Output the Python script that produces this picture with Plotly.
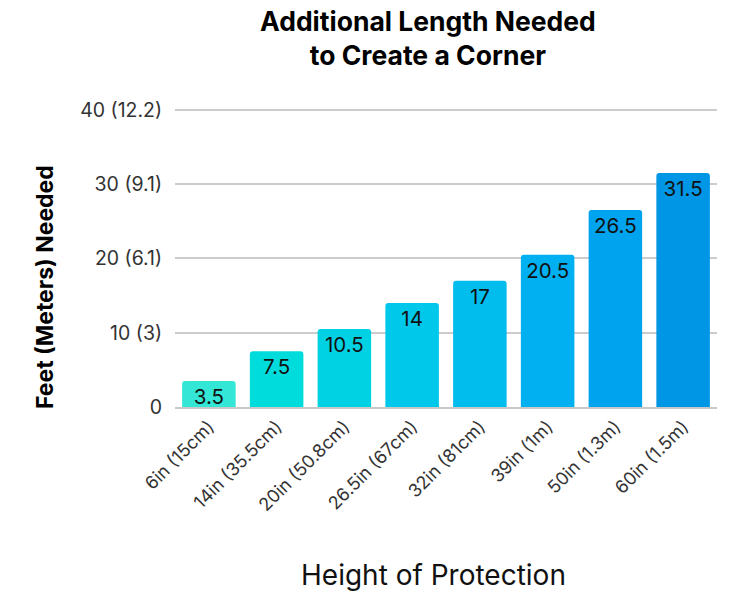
import plotly.graph_objects as go

categories = ["6in (15cm)", "14in (35.5cm)", "20in (50.8cm)", "26.5in (67cm)",
              "32in (81cm)", "39in (1m)", "50in (1.3m)", "60in (1.5m)"]
values = [3.5, 7.5, 10.5, 14, 17, 20.5, 26.5, 31.5]
labels = ["3.5", "7.5", "10.5", "14", "17", "20.5", "26.5", "31.5"]
colors = ["#33E6D6", "#00DCDC", "#00D2E4", "#00C8EA", "#00BDEE", "#00B0F0", "#00A3EE", "#0096E6"]
tick_vals = [0, 10, 20, 30, 40]
tick_text = ["0", "10 (3)", "20 (6.1)", "30 (9.1)", "40 (12.2)"]

FONT = "Inter"
W, H = 745, 593
L, R, T, B = 175, 28, 106, 186

fig = go.Figure(go.Bar(
    x=categories, y=values, text=labels,
    marker=dict(color=colors, line=dict(width=0)),
    textposition="inside", insidetextanchor="end",
    textfont=dict(family=FONT, size=20.5, color="#111"),
    constraintext="none", textangle=0,
))

fig.update_layout(
    width=W, height=H,
    margin=dict(l=L, r=R, t=T, b=B),
    paper_bgcolor="white", plot_bgcolor="white",
    bargap=0.21, barcornerradius=3,
    showlegend=False,
    font=dict(family=FONT),
    xaxis=dict(tickangle=-45, tickfont=dict(family=FONT, size=18, color="#333"),
               showgrid=False, showline=True, linecolor="#c8c8c8", linewidth=2,
               ticks="", ticklen=0),
    yaxis=dict(range=[0, 40.5], tickvals=tick_vals, ticktext=tick_text,
               tickfont=dict(family=FONT, size=19.5, color="#333"),
               showgrid=True, gridcolor="#cccccc", gridwidth=1.5,
               zeroline=False, ticks="outside", ticklen=8, tickcolor="white",
               showline=False),
    annotations=[
        dict(text="<b>Additional Length Needed<br>to Create a Corner</b>",
             x=428, y=38, showarrow=False,
             font=dict(family=FONT, size=26.5, color="#000")),
        dict(text="<b>Feet (Meters) Needed</b>", textangle=-90,
             x=45, y=287, showarrow=False,
             font=dict(family=FONT, size=23, color="#000")),
        dict(text="Height of Protection", x=433, y=575, showarrow=False,
             font=dict(family=FONT, size=28, color="#111")),
    ],
)

# convert pixel annotation coordinates to paper coords
pl, pr, pt, pb = L, W - R, T, H - B
for a in fig.layout.annotations:
    px, py = a.x, a.y
    a.x = (px - pl) / (pr - pl)
    a.y = (pb - py) / (pb - pt)
    a.xref = "paper"; a.yref = "paper"
    a.xanchor = "center"; a.yanchor = "middle"

fig.write_html("out.html")
